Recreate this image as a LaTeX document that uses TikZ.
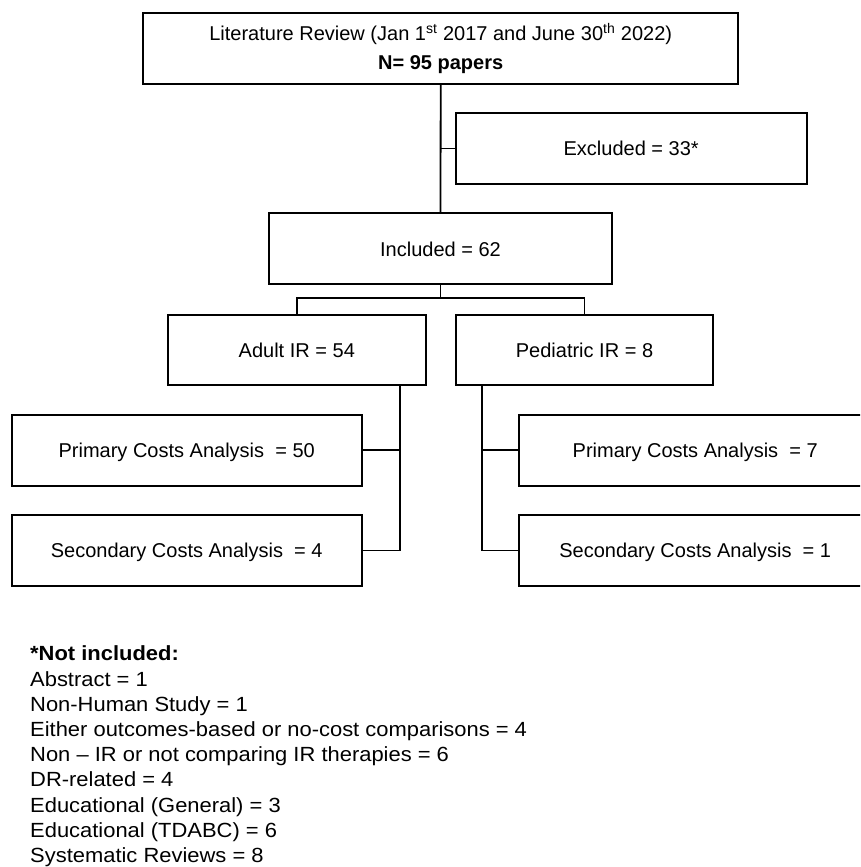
\documentclass[tikz,border=0pt]{standalone}
\usepackage{fontspec}
\setmainfont{Liberation Sans}
\newfontfamily\notefont[FakeStretch=1.07]{Liberation Sans}
\begin{document}
\begin{tikzpicture}[x=1pt,y=-1pt,
  fbox/.style={draw=black, line width=1.8pt, inner sep=0pt, align=center,
    font=\fontsize{20}{24}\selectfont, text height=14.4pt, text depth=0pt},
  conn/.style={draw=black, line width=1.8pt}]
\useasboundingbox (0,0) rectangle (860,867);
\clip (0,0) rectangle (860,867);
% boxes
\node[draw=black, line width=1.8pt, inner sep=0pt, align=center,
  font=\fontsize{20}{28.5}\selectfont,
  minimum width=594.7pt, minimum height=71.3pt] (top) at (440.7,48.3)
  {Literature Review (Jan 1\textsuperscript{st} 2017 and June 30\textsuperscript{th} 2022)\\\textbf{N= 95 papers}};
\node[fbox, minimum width=351pt, minimum height=71pt] (excl) at (631.2,148.5) {Excluded = 33*};
\node[fbox, minimum width=343pt, minimum height=71pt] (incl) at (440.5,248.8) {Included = 62};
\node[fbox, minimum width=258.3pt, minimum height=70pt] (adult) at (296.8,350) {Adult IR = 54};
\node[fbox, minimum width=257.6pt, minimum height=70pt] (ped) at (584.5,350) {Pediatric IR = 8};
\node[fbox, minimum width=350pt, minimum height=70.7pt] (pl) at (186.7,450.3) {Primary Costs Analysis~ = 50};
\node[fbox, minimum width=350pt, minimum height=71pt] (sl) at (186.7,550.5) {Secondary Costs Analysis~ = 4};
\node[fbox, minimum width=351.7pt, minimum height=70.7pt] (pr) at (695.2,450.3) {Primary Costs Analysis~ = 7};
\node[fbox, minimum width=351.7pt, minimum height=71pt] (sr) at (695.2,550.5) {Secondary Costs Analysis~ = 1};
% connectors
\draw[conn] (top.south) -- (incl.north);
\draw[conn] (top.south |- excl.west) -- (excl.west);
\coordinate (br) at (440.5,298.3);
\draw[conn] (incl.south) -- (br);
\draw[conn] (adult.north) |- (br) -| (ped.north);
\coordinate (aj) at (400,0);
\draw[conn] (adult.south -| aj) -- (aj |- sl.east) -- (sl.east);
\draw[conn] (aj |- pl.east) -- (pl.east);
\coordinate (pj) at (481.7,0);
\draw[conn] (ped.south -| pj) -- (pj |- sr.west) -- (sr.west);
\draw[conn] (pj |- pr.west) -- (pr.west);
% note
\node[anchor=north west, inner sep=0pt, align=left,
  font=\notefont\fontsize{20.5}{25.2}\selectfont] (note) at (30,645.8)
  {\textbf{*Not included:}\\
   Abstract = 1\\
   Non-Human Study = 1\\
   Either outcomes-based or no-cost comparisons = 4\\
   Non \textendash{} IR or not comparing IR therapies = 6\\
   DR-related = 4\\
   Educational (General) = 3\\
   Educational (TDABC) = 6\\
   Systematic Reviews = 8};
\end{tikzpicture}
\end{document}
